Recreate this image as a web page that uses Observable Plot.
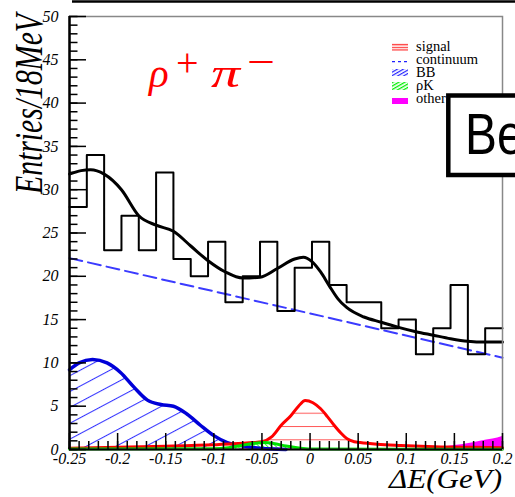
<!DOCTYPE html>
<html><head><meta charset="utf-8">
<script src="https://cdn.jsdelivr.net/npm/d3@7"></script>
<script src="https://cdn.jsdelivr.net/npm/@observablehq/plot@0.6"></script>
<style>body{margin:0;background:#fff;overflow:hidden;} svg{display:block;}</style>
</head><body><div id="chart"></div>
<script>
// Histogram (Entries / 18 MeV)
const binStart = -0.25, binWidth = 0.018;
const counts = [28,34,23,27,23,32,22,20,24,17,20,24,16,21,24,19,17,17,14,15,11,14,19,11,14];
// Total fit
const fitX = [-0.25,-0.238,-0.228,-0.214,-0.196,-0.178,-0.16,-0.142,-0.124,-0.106,-0.088,-0.07,-0.052,-0.034,-0.016,-0.007,0.002,0.011,0.02,0.029,0.038,0.056,0.074,0.092,0.11,0.128,0.146,0.164,0.182,0.2];
const fitY = [31.8,32.2,32.3,31.8,30.0,27.0,25.9,25.2,23.5,21.8,20.5,19.8,19.9,20.9,22.0,22.2,21.7,20.5,18.9,17.4,16.4,15.3,14.7,14.1,13.6,13.2,12.8,12.5,12.4,12.4];
// Continuum
const contX = [-0.25, 0.2];
const contY = [22.1, 10.6];
// BB
const bbX = [-0.25,-0.24,-0.226,-0.211,-0.197,-0.183,-0.169,-0.155,-0.142,-0.128,-0.114,-0.1,-0.086,-0.072,-0.058,-0.04,-0.025];
const bbY = [9.2,10.0,10.4,10.0,8.9,7.2,5.7,5.2,5.0,4.1,2.8,1.6,0.8,0.45,0.2,0.05,0];
// Signal
const sigX = [-0.25,-0.2,-0.15,-0.1,-0.08,-0.06,-0.05,-0.04,-0.03,-0.02,-0.012,-0.005,0.003,0.011,0.018,0.025,0.032,0.039,0.046,0.052,0.07,0.094,0.136,0.17,0.2];
const sigY = [0.15,0.25,0.38,0.55,0.65,0.8,0.9,1.45,2.8,3.9,5.0,5.66,5.4,4.7,3.8,2.8,1.9,1.2,0.9,0.8,0.6,0.46,0.3,0.25,0.2];
// rho K
const rkX = [-0.25,-0.1,-0.085,-0.07,-0.055,-0.047,-0.038,-0.025,-0.01,0.005,0.2];
const rkY = [0.05,0.08,0.2,0.5,0.75,0.8,0.7,0.4,0.15,0.05,0.02];
// other
const othX = [-0.25,-0.08,-0.065,-0.05,-0.035,-0.02,0.0,0.05,0.1,0.13,0.15,0.165,0.177,0.19,0.2];
const othY = [0,0.03,0.15,0.22,0.2,0.08,0.02,0.03,0.08,0.2,0.45,0.7,0.96,1.2,1.5];
// Axes
const xTickValues = [-0.25,-0.2,-0.15,-0.1,-0.05,0,0.05,0.1,0.15,0.2];
const xTickLabels = ["-0.25","-0.2","-0.15","-0.1","-0.05","0","0.05","0.1","0.15","0.2"];
const yTickValues = [0,5,10,15,20,25,30,35,40,45,50];
const yTickLabels = ["0","5","10","15","20","25","30","35","40","45","50"];
const xMinor = d3.range(-25, 21).map(i => i / 100);
const yMinor = d3.range(0, 51);

const hist = counts.map((c, i) => ({x: binStart + i * binWidth, y: c}));
hist.push({x: binStart + counts.length * binWidth, y: counts[counts.length - 1]});
const zip = (xs, ys) => xs.map((x, i) => ({x, y: ys[i]}));
const fit = zip(fitX, fitY), cont = zip(contX, contY), bb = zip(bbX, bbY),
      sig = zip(sigX, sigY), rk = zip(rkX, rkY), oth = zip(othX, othY);

const W = 433, H = 433;
const serif = "Liberation Serif, Times New Roman, serif";
const svg = Plot.plot({
  width: 515, height: 497,
  marginLeft: 69, marginRight: 13, marginTop: 16, marginBottom: 48,
  style: {overflow: "hidden"},
  x: {domain: [-0.25, 0.2], axis: null},
  y: {domain: [0, 50], axis: null},
  marks: [
    Plot.areaY(oth, {x: "x", y: "y", curve: "monotone-x", fill: "#ff00ff"}),
    Plot.areaY(bb, {x: "x", y: "y", curve: "monotone-x", fill: "url(#hBB)"}),
    Plot.areaY(sig, {x: "x", y: "y", curve: "monotone-x", fill: "url(#hSig)"}),
    Plot.areaY(rk, {x: "x", y: "y", curve: "monotone-x", fill: "url(#hRK)"}),
    Plot.line(bb, {x: "x", y: "y", curve: "monotone-x", stroke: "#0000d8", strokeWidth: 3.5}),
    Plot.line(sig, {x: "x", y: "y", curve: "monotone-x", stroke: "#ff0000", strokeWidth: 3}),
    Plot.line(rk, {x: "x", y: "y", curve: "monotone-x", stroke: "#00e000", strokeWidth: 3}),
    Plot.line(cont, {x: "x", y: "y", stroke: "#3b3bff", strokeWidth: 2, strokeDasharray: "13,6"}),
    Plot.line(hist, {x: "x", y: "y", curve: "step-after", stroke: "#000", strokeWidth: 2}),
    Plot.line(fit, {x: "x", y: "y", curve: "monotone-x", stroke: "#000", strokeWidth: 3}),
    Plot.frame({stroke: "#888", strokeWidth: 1.5}),
    Plot.tickY(yMinor, {y: d => d, insetRight: W - 8.5, stroke: "#000", strokeWidth: 1.5}),
    Plot.tickY(yTickValues, {y: d => d, insetRight: W - 17, stroke: "#000", strokeWidth: 1.5}),
    Plot.tickX(xMinor, {x: d => d, insetTop: H - 8, stroke: "#000", strokeWidth: 1.5}),
    Plot.tickX(xTickValues, {x: d => d, insetTop: H - 16, stroke: "#000", strokeWidth: 1.5}),
    Plot.ruleX([-0.25], {stroke: "#000", strokeWidth: 2.5}),
    Plot.ruleY([0], {stroke: "#000", strokeWidth: 2}),
    Plot.text(yTickValues, {y: d => d, text: (d, i) => yTickLabels[i], frameAnchor: "left", textAnchor: "end", dx: -11,
      fontFamily: serif, fontStyle: "italic", fontSize: 16, fill: "#000"}),
    Plot.text(xTickValues, {x: d => d, text: (d, i) => xTickLabels[i], frameAnchor: "bottom", dy: 14,
      fontFamily: serif, fontStyle: "italic", fontSize: 16, fill: "#000"})
  ]
});

const s = d3.select(svg);
const defs = s.insert("defs", ":first-child");
let p = defs.append("pattern").attr("id", "hBB").attr("patternUnits", "userSpaceOnUse")
  .attr("width", 14).attr("height", 14).attr("patternTransform", "rotate(-28)");
p.append("line").attr("x1", 0).attr("x2", 14).attr("y1", 0.5).attr("y2", 0.5).attr("stroke", "#3333ff").attr("stroke-width", 1.1);
p = defs.append("pattern").attr("id", "hSig").attr("patternUnits", "userSpaceOnUse")
  .attr("width", 10).attr("height", 13.3).attr("y", 0.4);
p.append("line").attr("x1", 0).attr("x2", 10).attr("y1", 0.5).attr("y2", 0.5).attr("stroke", "#ff5a5a").attr("stroke-width", 1);
p = defs.append("pattern").attr("id", "hRK").attr("patternUnits", "userSpaceOnUse")
  .attr("width", 3).attr("height", 3).attr("patternTransform", "rotate(45)");
p.append("line").attr("x1", 0).attr("x2", 3).attr("y1", 0.5).attr("y2", 0.5).attr("stroke", "#33ff33").attr("stroke-width", 1);
p = defs.append("pattern").attr("id", "lSig").attr("patternUnits", "userSpaceOnUse")
  .attr("width", 4).attr("height", 2.6);
p.append("line").attr("x1", 0).attr("x2", 4).attr("y1", 0.6).attr("y2", 0.6).attr("stroke", "#ff2020").attr("stroke-width", 1.1);
p = defs.append("pattern").attr("id", "lBB").attr("patternUnits", "userSpaceOnUse")
  .attr("width", 3).attr("height", 3).attr("patternTransform", "rotate(-30)");
p.append("line").attr("x1", 0).attr("x2", 3).attr("y1", 0.6).attr("y2", 0.6).attr("stroke", "#2020ff").attr("stroke-width", 1.2);
p = defs.append("pattern").attr("id", "lRK").attr("patternUnits", "userSpaceOnUse")
  .attr("width", 3).attr("height", 3).attr("patternTransform", "rotate(-30)");
p.append("line").attr("x1", 0).attr("x2", 3).attr("y1", 0.6).attr("y2", 0.6).attr("stroke", "#00ee00").attr("stroke-width", 1.4);

// top border line
s.append("line").attr("x1", 72).attr("x2", 515).attr("y1", 1.5).attr("y2", 1.5).attr("stroke", "#000").attr("stroke-width", 2.5);

// legend
const leg = s.append("g").attr("font-family", serif).attr("font-size", 14.5).attr("fill", "#000").attr("text-anchor", "start");
leg.append("rect").attr("x", 392).attr("y", 43).attr("width", 16).attr("height", 8).attr("fill", "url(#lSig)");
leg.append("line").attr("x1", 392).attr("x2", 408).attr("y1", 61.7).attr("y2", 61.7).attr("stroke", "#2020ff").attr("stroke-width", 1.3).attr("stroke-dasharray", "3,3");
leg.append("rect").attr("x", 392).attr("y", 69).attr("width", 16).attr("height", 7).attr("fill", "url(#lBB)");
leg.append("rect").attr("x", 392).attr("y", 82).attr("width", 16).attr("height", 8).attr("fill", "url(#lRK)");
leg.append("rect").attr("x", 392).attr("y", 98).attr("width", 16).attr("height", 6).attr("fill", "#ff00ff");
[["signal", 51], ["continuum", 63.5], ["BB", 77], ["ρK", 89.5], ["other", 103]].forEach(([t, y]) =>
  leg.append("text").attr("x", 416).attr("y", y).text(t));

// "Be" box (runs off the right edge)
s.append("rect").attr("x", 448.3).attr("y", 95.5).attr("width", 80).attr("height", 79.5).attr("fill", "#fff");
s.append("path").attr("d", "M530,95.5H448.3V175H530").attr("fill", "none").attr("stroke", "#000").attr("stroke-width", 4.5);
s.append("text").attr("transform", "translate(465,154) scale(0.84,1)").attr("text-anchor", "start")
  .attr("font-family", "Liberation Sans, Arial, sans-serif").attr("font-size", 57).attr("fill", "#000").text("Be");

// rho+ pi- label
const lab = s.append("g").attr("font-family", serif).attr("fill", "#ff0000").attr("text-anchor", "start");
lab.append("text").attr("x", 149).attr("y", 87).attr("font-size", 41).attr("font-style", "italic").text("ρ");
lab.append("text").attr("x", 176).attr("y", 76).attr("font-size", 40).text("+");
lab.append("text").attr("x", 211).attr("y", 87).attr("font-size", 41).attr("font-style", "italic")
  .attr("textLength", 29).attr("lengthAdjust", "spacingAndGlyphs").text("π");
lab.append("text").attr("x", 247).attr("y", 75).attr("font-size", 40).attr("textLength", 28).attr("lengthAdjust", "spacingAndGlyphs").text("−");

// axis titles
s.append("text").attr("transform", "translate(42,104) rotate(-90)").attr("text-anchor", "middle")
  .attr("font-family", serif).attr("font-style", "italic").attr("font-size", 39)
  .attr("textLength", 180).attr("lengthAdjust", "spacingAndGlyphs").attr("fill", "#000").text("Entries/18MeV");
s.append("text").attr("x", 389).attr("y", 488).attr("text-anchor", "start")
  .attr("font-family", serif).attr("font-style", "italic").attr("font-size", 27)
  .attr("textLength", 113).attr("lengthAdjust", "spacingAndGlyphs").attr("fill", "#000").text("ΔE(GeV)");

document.getElementById("chart").appendChild(svg);
</script></body></html>
